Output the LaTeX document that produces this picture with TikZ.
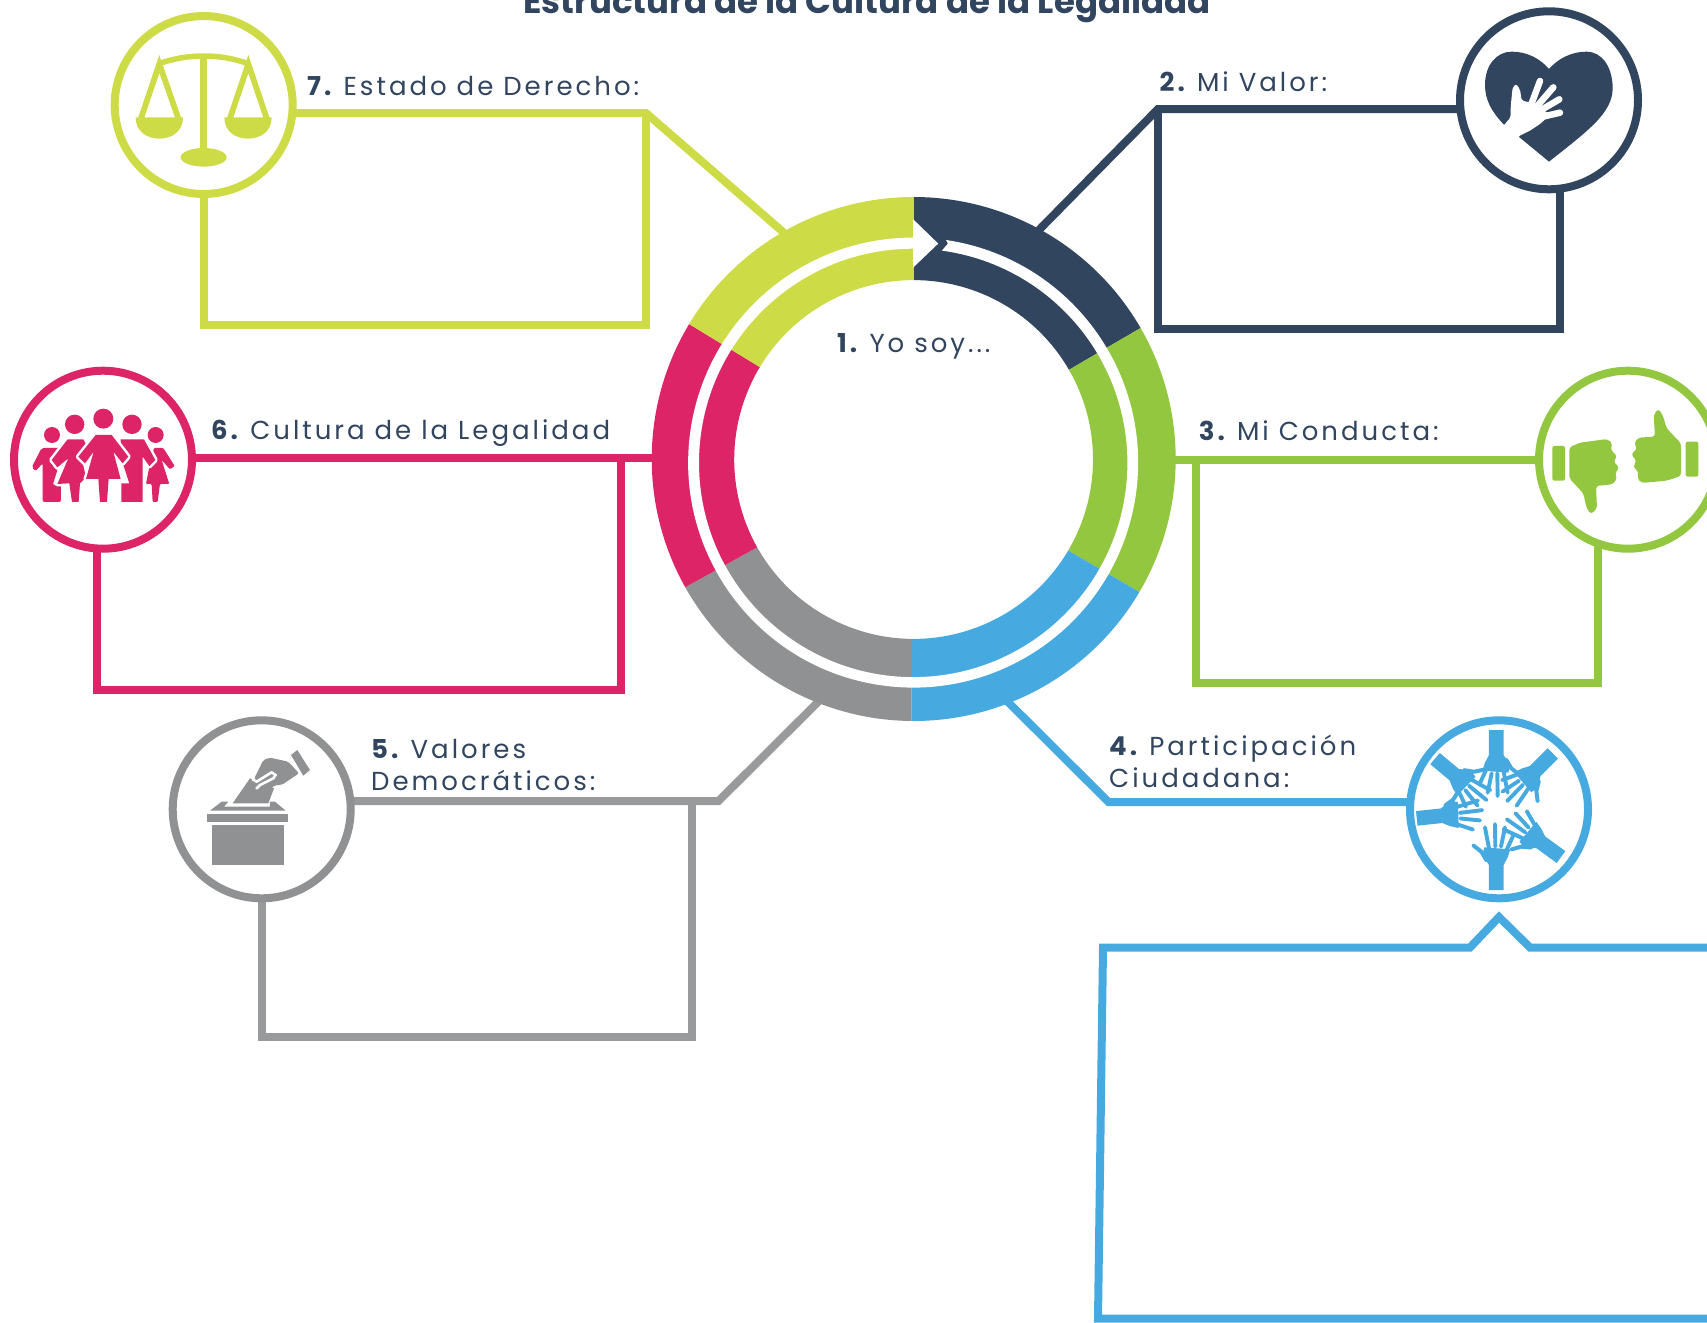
\documentclass[tikz,border=0pt]{standalone}
\usepackage{fontspec}
\setmainfont{Poppins}[LetterSpace=11.5]
\newfontfamily\titlefont{Poppins}[LetterSpace=0]
\usetikzlibrary{calc,backgrounds}
\definecolor{cLime}{HTML}{CDDC46}
\definecolor{cNavy}{HTML}{31455F}
\definecolor{cGreen}{HTML}{92C73F}
\definecolor{cBlue}{HTML}{46A9E0}
\definecolor{cGrey}{HTML}{909193}
\definecolor{cPink}{HTML}{DC2467}
\tikzset{
  conn/.style={line width=8pt,miter limit=10,join=miter},
  badge/.style={circle,draw,line width=8pt,minimum size=178pt,inner sep=0pt,outer sep=0pt,fill=white},
  lab/.style={anchor=base west,inner sep=0pt,text=cNavy,font=\fontsize{26}{31.3}\selectfont,align=left},
  icon/.style={x=0.3333pt,y=-0.3333pt},
}
\newcommand{\num}[1]{\textbf{#1}\hspace{-4pt}}
\newcommand{\sector}[3]{\fill[#1] (913.7,459) ++(#2:262pt) arc[start angle=#2,end angle=#3,radius=262pt]
  -- ($(913.6,459.5)+(#3:179.4pt)$) arc[start angle=#3,end angle=#2,radius=179.4pt] -- cycle;}
\newcommand{\handshape}[1]{%
\begin{scope}[shift={(1496.3,810)},x=0.3333pt,y=0.3333pt,rotate=#1,cBlue]
 \fill (-22,-240) -- (22,-240) -- (22,-165) -- (34,-142) -- (42,-118) -- (-36,-112) -- (-42,-135) -- (-22,-165) -- cycle;
 \draw[line width=4pt,line cap=round,line join=round] (-30,-150) -- (-45,-125) -- (-68,-107);
 \draw[line width=3.9pt,line cap=round] (-22,-115) -- (-34,-52);
 \draw[line width=3.9pt,line cap=round] (-3,-110) -- (-4,-42);
 \draw[line width=3.9pt,line cap=round] (14,-110) -- (26,-52);
 \draw[line width=3.9pt,line cap=round] (30,-122) -- (51,-76);
\end{scope}}
\begin{document}
\begin{tikzpicture}[x=1pt,y=-1pt]
\useasboundingbox (0,0) rectangle (1707,1322);
\clip (0,0) rectangle (1707,1322);
% named anchor points
\coordinate (r7) at (790,238);
\coordinate (e7) at (646,113);
\coordinate (b7a) at (646,324.5);
\coordinate (b7b) at (204,324.5);
\coordinate (r2) at (1034,235);
\coordinate (e2) at (1158,109);
\coordinate (b2a) at (1158,329);
\coordinate (b2b) at (1560,329);
\coordinate (r3) at (1170,460);
\coordinate (e3) at (1196,460);
\coordinate (b3a) at (1196,682.5);
\coordinate (b3b) at (1598,682.5);
\coordinate (r6) at (660,458);
\coordinate (e6) at (620.5,458);
\coordinate (b6a) at (620.5,690);
\coordinate (b6b) at (97.3,690);
\coordinate (r5) at (823,697);
\coordinate (e5) at (718.5,801);
\coordinate (d5) at (691.5,801);
\coordinate (b5a) at (691.5,1036.5);
\coordinate (b5b) at (261.7,1036.5);
\coordinate (r4) at (1003,697);
\coordinate (e4) at (1108.5,802);

% badges
\node[badge,draw=cLime] (c7) at (203.7,105) {};
\node[badge,draw=cNavy] (c2) at (1549,100.3) {};
\node[badge,draw=cGreen] (c3) at (1628,459.7) {};
\node[badge,draw=cPink] (c6) at (103,459.7) {};
\node[badge,draw=cGrey] (c5) at (261.7,809.3) {};
\node[badge,draw=cBlue] (c4) at (1499,809.3) {};

% connectors and boxes
\begin{scope}[on background layer]
\draw[conn,cLime] (r7) -- (e7) -- (c7 |- e7);
\draw[conn,cLime] (e7) -- (b7a) -- (b7b) -- (b7b |- c7);
\draw[conn,cNavy] (r2) -- (e2) -- (c2 |- e2);
\draw[conn,cNavy] (e2) -- (b2a) -- (b2b) -- (b2b |- c2);
\draw[conn,cGreen] (r3) -- (e3) -- (c3 |- e3);
\draw[conn,cGreen] (e3) -- (b3a) -- (b3b) -- (b3b |- c3);
\draw[conn,cPink] (r6) -- (e6) -- (c6 |- e6);
\draw[conn,cPink] (e6) -- (b6a) -- (b6b) -- (b6b |- c6);
\draw[conn,color=cGrey!92!white] (r5) -- (e5) -- (c5 |- e5);
\draw[conn,color=cGrey!92!white] (d5) -- (b5a) -- (b5b) -- (b5b |- c5);
\draw[conn,cBlue] (r4) -- (e4) -- (c4 |- e4);
\coordinate (q1) at (1103,947.5);
\coordinate (q2) at (1470,947.5);
\coordinate (q3) at (1499,917);
\coordinate (q4) at (1530,947.5);
\coordinate (q5) at (1720,947.5);
\coordinate (q6) at (1720,1318.5);
\coordinate (q7) at (1098,1318.5);
\draw[conn,cBlue] (q5) -- (q4) -- (q3) -- (q2) -- (q1) -- (q7) -- (q6);
\end{scope}

% ring
\sector{cNavy}{90}{30}
\sector{cGreen}{30}{-30.5}
\sector{cBlue}{-30.5}{-90.5}
\sector{cGrey}{-90.5}{-150.7}
\sector{cPink}{-150.7}{-211}
\sector{cLime}{149}{90}
\fill[white] (946,240) arc[start angle=81.6,end angle=-270,radius=225pt]
  -- (913.2,248.7) arc[start angle=-270,end angle=82.3,radius=214.2pt]
  -- (947.9,243.6) -- cycle;
\fill[white] (913.2,219.3) -- (938.2,243.6) -- (913.2,267.5) -- cycle;
\node[lab] (t1) at (837,352.7) {\num{1.} Yo soy...};

% labels
\node[anchor=base,inner sep=0pt,text=cNavy,font=\titlefont\fontsize{34}{40}\selectfont\bfseries] (title) at (867,14) {Estructura de la Cultura de la Legalidad};
\node[lab] (t7) at (307,95.8) {\num{7.} Estado de Derecho:};
\node[lab] (t2) at (1159.5,91.5) {\num{2.} Mi Valor:};
\node[lab] (t3) at (1198.6,440) {\num{3.} Mi Conducta:};
\node[lab] (t6) at (211,439.8) {\num{6.} Cultura de la Legalidad};
\node[lab] (t5) at (371,790) {\num{5.} Valores\\Democráticos:};
\node[lab] (t4) at (1109,787) {\num{4.} Participación\\Ciudadana:};

% scales icon
\begin{scope}[shift={(100,0)},icon,cLime]
 \fill (301,175) rectangle (321,450);
 \fill (311,472) ellipse [x radius=23pt,y radius=9.3pt];
 \draw[line width=5.5pt] (175,192) .. controls (260,160) and (362,160) .. (447,192);
 \draw[line width=5.8pt,line join=miter] (122,358) -- (178,192) -- (236,358);
 \draw[line width=5.8pt,line join=miter] (389,358) -- (445,192) -- (501,358);
 \fill (107,352) -- (249,352) .. controls (249,395) and (215,416) .. (178,416) .. controls (141,416) and (107,395) .. (107,352) -- cycle;
 \fill (373,352) -- (515,352) .. controls (515,395) and (481,416) .. (444,416) .. controls (407,416) and (373,395) .. (373,352) -- cycle;
\end{scope}

% heart icon
\begin{scope}[shift={(1440,0)},icon]
 \fill[cNavy] (327,485) -- (190,372) .. controls (155,335) and (135,300) .. (135,255) .. controls (135,195) and (170,155) .. (215,155) .. controls (260,155) and (300,175) .. (327,207) .. controls (355,175) and (395,155) .. (440,155) .. controls (485,155) and (518,200) .. (518,265) .. controls (518,340) and (440,395) .. (327,485) -- cycle;
 \fill[white,rounded corners=2pt] (212,352) -- (212,320) -- (218,262) -- (228,252) -- (240,268) -- (245,302) -- (285,310) -- (330,345) -- (300,372) -- (270,392) -- (237,408) -- (210,440) -- (175,395) -- cycle;
 \draw[white,line width=6.5pt,line cap=round] (275,310) -- (300,243);
 \draw[white,line width=6.5pt,line cap=round] (290,320) -- (340,262);
 \draw[white,line width=6.5pt,line cap=round] (300,332) -- (358,298);
 \draw[white,line width=6.5pt,line cap=round] (300,352) -- (360,338);
\end{scope}

% thumbs icon
\begin{scope}[shift={(1520,360)},icon,cGreen]
 \fill[rounded corners=2pt] (97,258) rectangle (135,362);
 \fill[rounded corners=2pt] (497,245) rectangle (535,350);
 \fill[rounded corners=3pt] (148,262) -- (180,248) -- (262,237) -- (277,250) -- (272,270) -- (292,288) -- (280,305) -- (298,322) -- (284,342) -- (292,355) -- (278,373) -- (228,378) -- (231,445) -- (213,463) -- (200,445) -- (190,400) -- (148,355) -- cycle;
 \fill[rounded corners=3pt] (483,250) -- (440,205) -- (428,165) -- (415,146) -- (401,165) -- (405,230) -- (355,233) -- (342,250) -- (352,266) -- (333,283) -- (350,303) -- (339,320) -- (356,336) -- (352,355) -- (365,369) -- (440,362) -- (483,348) -- cycle;
\end{scope}

% family icon
\begin{scope}[shift={(0,360)},icon,cPink]
 \fill (156,225) circle (8pt);
 \fill (224,193) circle (9.7pt);
 \fill (310,176) circle (10pt);
 \fill (396,193) circle (9.7pt);
 \fill (467,225) circle (8pt);
 % far left figure
 \fill[rounded corners=2pt] (125,264) -- (182,264) -- (182,300) -- (158,375) -- (183,375) -- (183,426) -- (128,426) -- (128,310) -- (107,333) -- (95,322) -- cycle;
 % far right figure
 \fill[rounded corners=1pt] (462,264) -- (490,264) -- (524,318) -- (510,328) -- (485,300) -- (508,372) -- (480,372) -- (473,426) -- (458,426) -- (455,372) -- (438,372) -- (450,310) -- cycle;
 % right man
 \draw[white,line width=5pt,line join=round,fill=cPink] (362,238) -- (432,238) -- (466,300) -- (448,318) -- (428,290) -- (428,426) -- (364,426) -- (364,370) -- (388,370) -- (365,300) -- cycle;
 \fill (362,238) -- (432,238) -- (466,300) -- (448,318) -- (428,290) -- (428,426) -- (364,426) -- (364,370) -- (388,370) -- (365,300) -- cycle;
 % second woman
 \draw[white,line width=5pt,line join=round] (203,238) -- (250,238) -- (262,260) -- (245,295) -- (258,352) -- (240,370) -- (236,426) -- (216,426) -- (208,370) -- (172,372) -- (205,295) -- (172,322) -- (155,300) -- cycle;
 \fill (203,238) -- (250,238) -- (262,260) -- (245,295) -- (258,352) -- (240,370) -- (236,426) -- (216,426) -- (208,370) -- (172,372) -- (205,295) -- (172,322) -- (155,300) -- cycle;
 % central woman
 \draw[white,line width=5pt,line join=round] (287,225) -- (335,225) -- (385,290) -- (368,310) -- (340,275) -- (362,357) -- (326,357) -- (321,426) -- (300,426) -- (295,357) -- (258,357) -- (281,275) -- (255,310) -- (235,290) -- cycle;
 \fill (287,225) -- (335,225) -- (385,290) -- (368,310) -- (340,275) -- (362,357) -- (326,357) -- (321,426) -- (300,426) -- (295,357) -- (258,357) -- (281,275) -- (255,310) -- (235,290) -- cycle;
\end{scope}

% ballot icon
\begin{scope}[shift={(160,710)},icon,cGrey]
 \fill (156,345) rectangle (372,465);
 \fill (141,312) rectangle (384,335);
 \fill (150,302) -- (185,275) -- (205,275) -- (192,290) -- (330,290) -- (330,275) -- (345,275) -- (377,302) -- cycle;
 \fill (270,205) -- (218,280) -- (325,280) -- (342,235) -- cycle;
 \fill (393,135) -- (412,120) -- (450,180) -- (430,197) -- cycle;
 \fill[rounded corners=2pt] (283,205) -- (310,150) -- (330,143) -- (385,155) -- (417,190) -- (365,225) -- (345,225) -- (325,245) -- (290,240) -- cycle;
 \draw[white,line width=2.6pt,line cap=round,line join=round] (278,208) -- (290,215) -- (335,187) -- (347,195) -- (340,205) -- (300,225) -- (290,235);
\end{scope}

% hands icon
\handshape{0}
\handshape{54}
\handshape{230}
\handshape{276}
\handshape{135}
\handshape{180}
\end{tikzpicture}
\end{document}
